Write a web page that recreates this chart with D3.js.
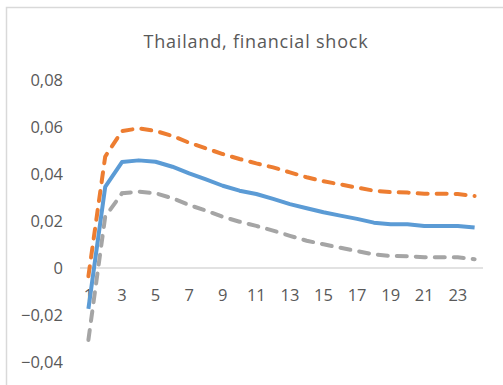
<!DOCTYPE html>
<html>
<head>
<meta charset="utf-8">
<script src="https://cdn.jsdelivr.net/npm/d3@7"></script>
<style>
html,body{margin:0;padding:0;background:#fff;}
svg{display:block;}
text{font-family:"Open Sans","Liberation Sans",sans-serif;fill:#595959;}
</style>
</head>
<body>
<svg id="chart" width="503" height="385"></svg>
<script>
const title = "Thailand, financial shock";
const periods = d3.range(1, 25);
const xTickLabels = [1,3,5,7,9,11,13,15,17,19,21,23];
const yTicks = [-0.04,-0.02,0,0.02,0.04,0.06,0.08];
const irf = [-0.0174,0.0345,0.0451,0.0458,0.0452,0.0431,0.0403,0.0377,0.0350,0.0329,0.0315,0.0294,0.0272,0.0254,0.0237,0.0223,0.0209,0.0193,0.0186,0.0186,0.0179,0.0179,0.0179,0.0172];
const upper = [-0.0035,0.0474,0.0583,0.0594,0.0583,0.0562,0.0533,0.0509,0.0485,0.0464,0.0445,0.0428,0.0407,0.0386,0.0369,0.0356,0.0342,0.0329,0.0323,0.0321,0.0316,0.0316,0.0315,0.0306];
const lower = [-0.0306,0.0218,0.0318,0.0325,0.0318,0.0297,0.0268,0.0244,0.0218,0.0197,0.0179,0.0159,0.0137,0.0116,0.0101,0.0086,0.0072,0.0058,0.0051,0.0050,0.0046,0.0046,0.0046,0.0037];

const svg = d3.select("#chart");

svg.append("rect").attr("x",6.5).attr("y",7.5).attr("width",600).attr("height",500)
  .attr("fill","none").attr("stroke","#D9D9D9").attr("stroke-width",1.5);

const x = d3.scaleBand().domain(periods).range([80, 483]);
const y = d3.scaleLinear().domain([-0.04, 0.08]).range([362, 80]);
const fmt = v => v === 0 ? "0" : d3.format(".2f")(v).replace(".", ",");

svg.append("text").attr("x",256).attr("y",48).attr("text-anchor","middle")
  .style("font-size","18px").style("letter-spacing","0.8px").text(title);

const yAxis = d3.axisLeft(y).tickValues(yTicks).tickFormat(fmt).tickSize(0).tickPadding(0);
const ya = svg.append("g").attr("transform","translate(63,0)").call(yAxis);
ya.select(".domain").remove();
ya.selectAll("text").style("font-size","16.5px").attr("fill","#595959");

svg.append("line").attr("x1",80).attr("x2",483).attr("y1",y(0)).attr("y2",y(0))
  .attr("stroke","#D9D9D9").attr("stroke-width",1.5);

const xAxis = d3.axisBottom(x).tickValues(xTickLabels).tickSize(0).tickPadding(0);
const xa = svg.append("g").attr("transform",`translate(0,${y(0)+21})`).call(xAxis);
xa.select(".domain").remove();
xa.selectAll("text").style("font-size","16.5px").attr("fill","#595959");

const line = d3.line().x((d,i)=>x(periods[i]) + x.bandwidth()/2).y(d=>y(d));

svg.append("path").datum(upper).attr("d",line).attr("fill","none")
  .attr("stroke","#ED7D31").attr("stroke-width",4).attr("stroke-dasharray","10,9").attr("stroke-linecap","round");
svg.append("path").datum(irf).attr("d",line).attr("fill","none")
  .attr("stroke","#5B9BD5").attr("stroke-width",4).attr("stroke-linejoin","round");
svg.append("path").datum(lower).attr("d",line).attr("fill","none")
  .attr("stroke","#A5A5A5").attr("stroke-width",4).attr("stroke-dasharray","10,9").attr("stroke-linecap","round");
</script>
</body>
</html>
